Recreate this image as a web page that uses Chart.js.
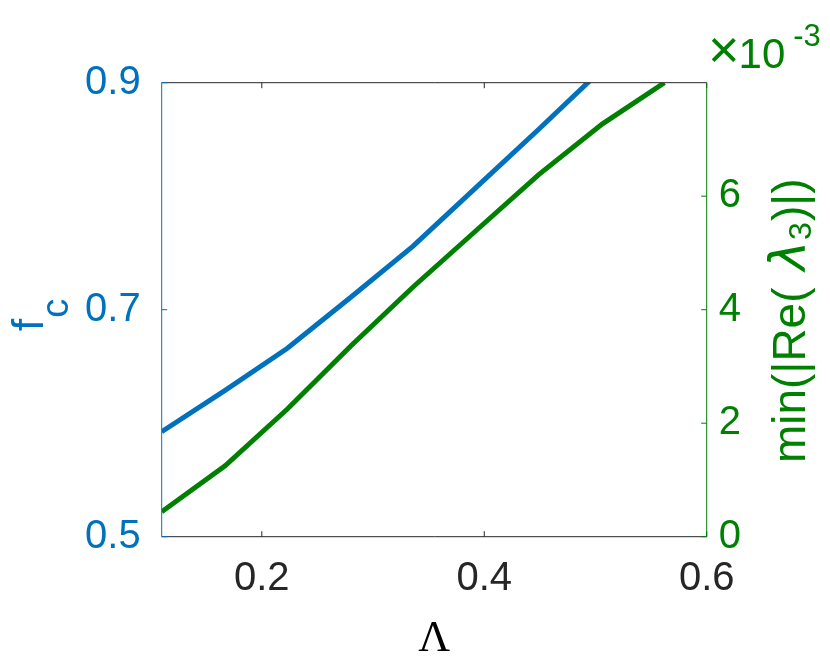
<!DOCTYPE html>
<html>
<head>
<meta charset="utf-8">
<script src="https://cdn.jsdelivr.net/npm/chart.js@4.4.1/dist/chart.umd.min.js"></script>
<style>
  html, body { margin: 0; padding: 0; background: #fff; }
  #chart { display: block; }
</style>
</head>
<body>
<canvas id="chart" width="830" height="670"></canvas>
<script>
// values
const lambda = [0.11, 0.167, 0.223, 0.28, 0.336, 0.393, 0.449, 0.506, 0.562];
const fc = [0.5925, 0.629, 0.666, 0.711, 0.756, 0.808, 0.859, 0.912, 0.962];
const minReLambda3 = [0.44e-3, 1.25e-3, 2.25e-3, 3.36e-3, 4.40e-3, 5.40e-3, 6.38e-3, 7.27e-3, 8.0e-3];

const xTicks = [0.2, 0.4, 0.6];
const fcTicks = [0.5, 0.7, 0.9];
const reTicks = [0, 2e-3, 4e-3, 6e-3];

const BLUE = '#0072BD';
const GREEN = '#008000';
const AXIS = '#262626';
const SANS = "'Liberation Sans', Arial, sans-serif";
const SERIF = "'Liberation Serif', 'Times New Roman', serif";

// text made of runs (for sub/superscripts), optionally rotated
function drawRuns(ctx, x, y, angle, runs, color) {
    ctx.save();
    ctx.translate(x, y);
    ctx.rotate(angle);
    ctx.fillStyle = color;
    ctx.textBaseline = 'alphabetic';
    ctx.textAlign = 'left';
    let cx = 0;
    runs.forEach(r => {
        ctx.font = r.font;
        cx += r.pre || 0;
        ctx.fillText(r.text, cx, r.dy || 0);
        cx += ctx.measureText(r.text).width + (r.gap || 0);
    });
    ctx.restore();
}

const frame = {
    id: 'frame',
    afterDatasetsDraw(chart) {
        const { ctx, chartArea: a, scales: { x, y, y1 } } = chart;
        const tl = 5.5;
        ctx.save();
        ctx.lineWidth = 1;

        ctx.strokeStyle = AXIS;
        ctx.beginPath();
        ctx.moveTo(a.left, a.top); ctx.lineTo(a.right, a.top);
        ctx.moveTo(a.left, a.bottom); ctx.lineTo(a.right, a.bottom);
        xTicks.forEach(v => {
            const px = x.getPixelForValue(v);
            ctx.moveTo(px, a.bottom); ctx.lineTo(px, a.bottom - tl);
            ctx.moveTo(px, a.top); ctx.lineTo(px, a.top + tl);
        });
        ctx.stroke();

        ctx.strokeStyle = BLUE;
        ctx.beginPath();
        ctx.moveTo(a.left, a.top); ctx.lineTo(a.left, a.bottom);
        fcTicks.forEach(v => {
            const py = y.getPixelForValue(v);
            ctx.moveTo(a.left, py); ctx.lineTo(a.left + tl, py);
        });
        ctx.stroke();

        ctx.strokeStyle = GREEN;
        ctx.beginPath();
        ctx.moveTo(a.right, a.top); ctx.lineTo(a.right, a.bottom);
        reTicks.forEach(v => {
            const py = y1.getPixelForValue(v);
            ctx.moveTo(a.right, py); ctx.lineTo(a.right - tl, py);
        });
        ctx.stroke();
        ctx.restore();
    },
    afterDraw(chart) {
        const { ctx, chartArea: a } = chart;
        const up = -Math.PI / 2;

        // left axis label f_c
        drawRuns(ctx, 43, 331, up, [
            { text: 'f', font: `44px ${SANS}`, gap: 1 },
            { text: 'c', font: `38px ${SANS}`, dy: 25 }
        ], BLUE);

        // right axis label
        drawRuns(ctx, 805, 463, up, [
            { text: 'min(|Re(', font: `46px ${SANS}` },
            { text: 'λ', font: `oblique 50px 'DejaVu Sans', sans-serif`, pre: 17, gap: 1 },
            { text: '3', font: `32px ${SANS}`, dy: 6, gap: 1 },
            { text: ')|)', font: `46px ${SANS}` }
        ], GREEN);

        // exponent of the right axis
        drawRuns(ctx, 708, 68, 0, [
            { text: '×', font: `54px ${SANS}`, gap: -1 },
            { text: '10', font: `42px ${SANS}`, gap: 8 },
            { text: '-3', font: `31px ${SANS}`, dy: -22 }
        ], GREEN);

        // x axis label
        ctx.save();
        ctx.fillStyle = '#000';
        ctx.font = `44px ${SERIF}`;
        ctx.textAlign = 'center';
        ctx.textBaseline = 'alphabetic';
        ctx.fillText('Λ', (a.left + a.right) / 2, 651);
        ctx.restore();
    }
};

new Chart(document.getElementById('chart'), {
    type: 'line',
    data: {
        datasets: [
            {
                label: 'f_c',
                data: lambda.map((v, i) => ({ x: v, y: fc[i] })),
                yAxisID: 'y',
                borderColor: BLUE,
                borderWidth: 5,
                pointRadius: 0,
                tension: 0
            },
            {
                label: 'min(|Re(λ3)|)',
                data: lambda.map((v, i) => ({ x: v, y: minReLambda3[i] })),
                yAxisID: 'y1',
                borderColor: GREEN,
                borderWidth: 5,
                pointRadius: 0,
                tension: 0
            }
        ]
    },
    options: {
        responsive: false,
        animation: false,
        devicePixelRatio: 1,
        layout: { padding: { top: 82.7, left: 0, right: 0, bottom: 0 } },
        plugins: { legend: { display: false }, tooltip: { enabled: false } },
        scales: {
            x: {
                type: 'linear',
                position: 'bottom',
                min: 0.11,
                max: 0.6,
                afterBuildTicks: s => { s.ticks = xTicks.map(v => ({ value: v })); },
                afterFit: s => { s.height = 670 - 536.7; },
                grid: { display: false, drawTicks: false },
                border: { display: false },
                ticks: {
                    padding: 18,
                    color: AXIS,
                    font: { family: SANS, size: 40 },
                    callback: v => v.toFixed(1)
                }
            },
            y: {
                type: 'linear',
                position: 'left',
                min: 0.5,
                max: 0.9,
                afterBuildTicks: s => { s.ticks = fcTicks.map(v => ({ value: v })); },
                afterFit: s => { s.width = 161.7; },
                grid: { display: false, drawTicks: false },
                border: { display: false },
                ticks: {
                    padding: 21,
                    color: BLUE,
                    font: { family: SANS, size: 40 },
                    callback: v => v.toFixed(1)
                }
            },
            y1: {
                type: 'linear',
                position: 'right',
                min: 0,
                max: 8e-3,
                afterBuildTicks: s => { s.ticks = reTicks.map(v => ({ value: v })); },
                afterFit: s => { s.width = 830 - 706.7; },
                grid: { display: false, drawTicks: false },
                border: { display: false },
                ticks: {
                    padding: 12,
                    color: GREEN,
                    font: { family: SANS, size: 40 },
                    callback: v => String(Math.round(v * 1000))
                }
            }
        }
    },
    plugins: [frame]
});
</script>
</body>
</html>
